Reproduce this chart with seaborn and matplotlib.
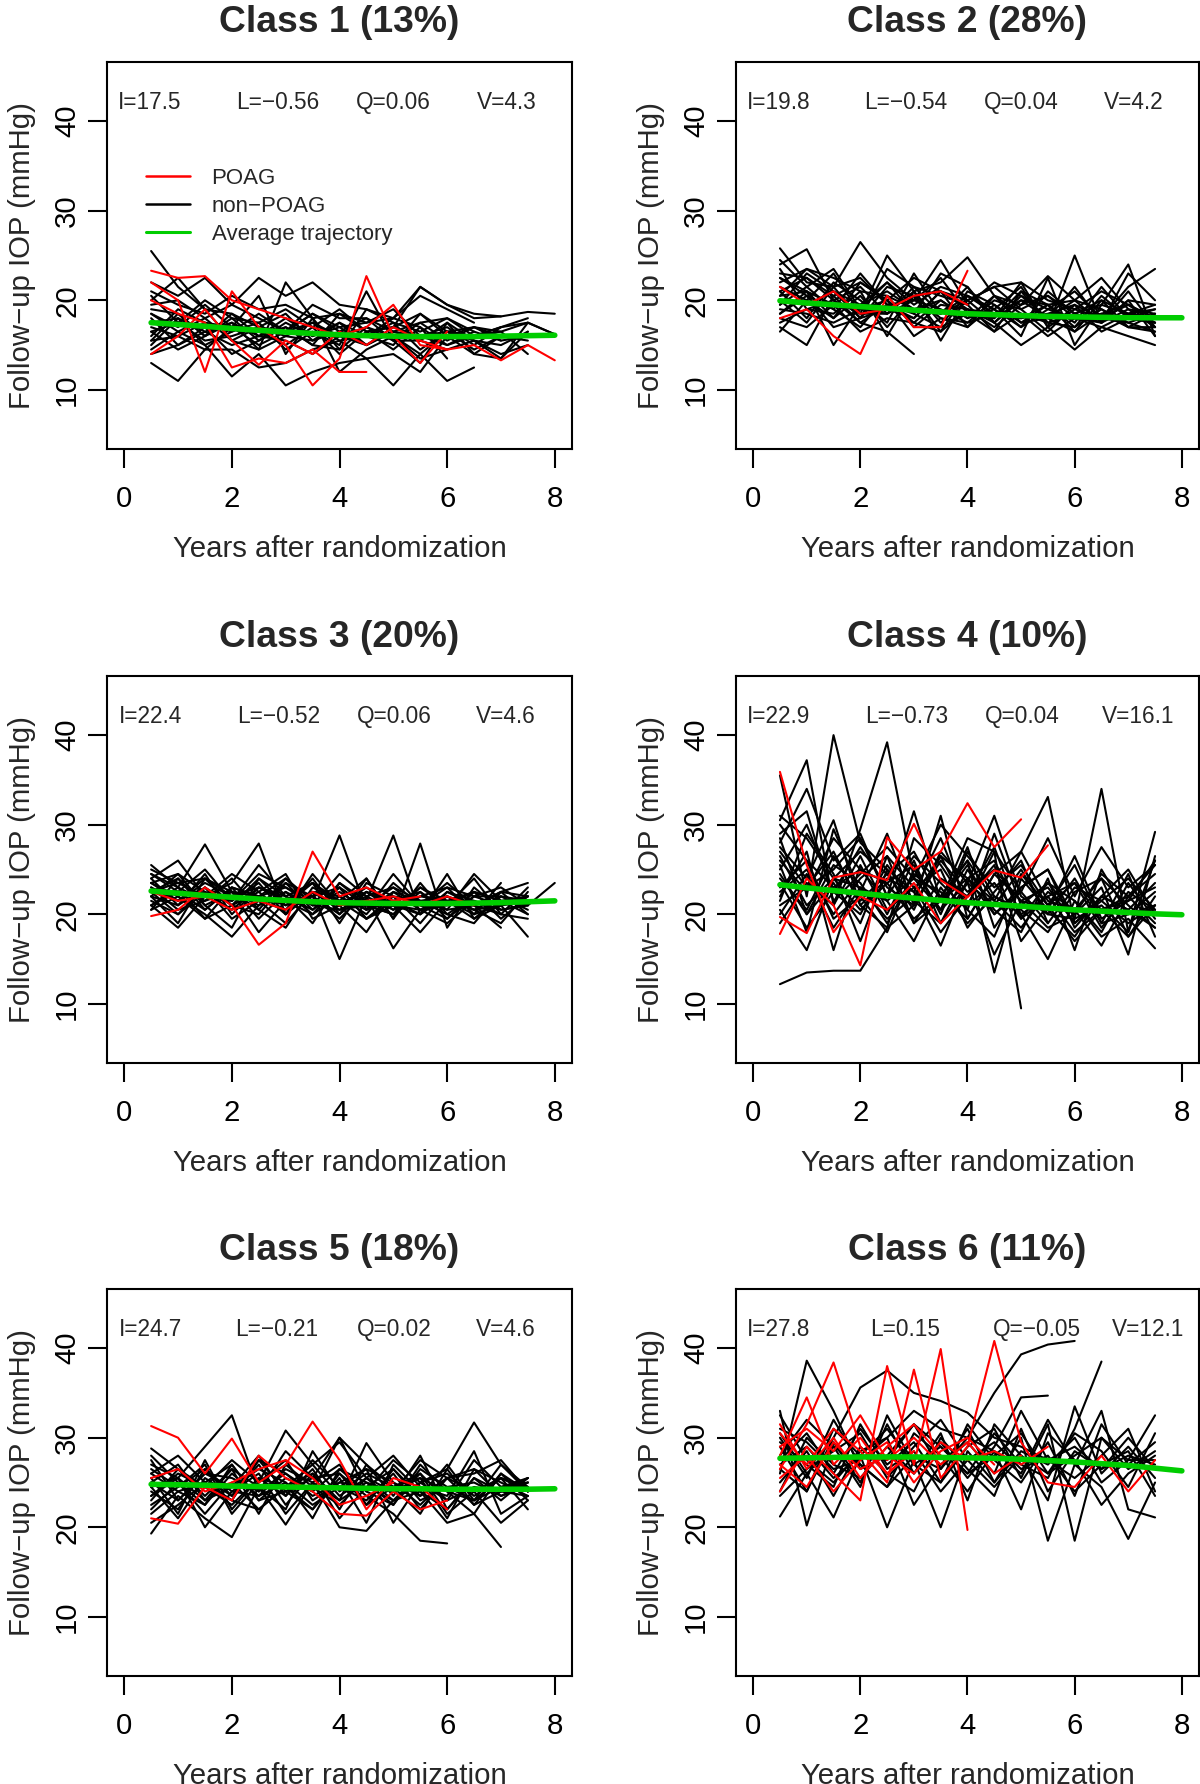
import matplotlib
matplotlib.use("Agg")
import matplotlib.pyplot as plt
from matplotlib.lines import Line2D
import pandas as pd
import seaborn as sns

# ---------------- data ----------------
visit_years = [0.5, 1.0, 1.5, 2.0, 2.5, 3.0, 3.5, 4.0, 4.5, 5.0, 5.5, 6.0, 6.5, 7.0, 7.5, 8.0]

class_titles = ["Class 1 (13%)", "Class 2 (28%)", "Class 3 (20%)",
                "Class 4 (10%)", "Class 5 (18%)", "Class 6 (11%)"]

class_stats = [
    ["I=17.5", "L=\u22120.56", "Q=0.06", "V=4.3"],
    ["I=19.8", "L=\u22120.54", "Q=0.04", "V=4.2"],
    ["I=22.4", "L=\u22120.52", "Q=0.06", "V=4.6"],
    ["I=22.9", "L=\u22120.73", "Q=0.04", "V=16.1"],
    ["I=24.7", "L=\u22120.21", "Q=0.02", "V=4.6"],
    ["I=27.8", "L=0.15", "Q=\u22120.05", "V=12.1"],
]

# average trajectories, at visit_years
c1_avg = [17.5, 17.3, 17.1, 16.85, 16.65, 16.45, 16.3, 16.15, 16.05, 16.0, 15.95, 15.95, 15.95, 16.0, 16.05, 16.1]
c2_avg = [19.95, 19.7, 19.5, 19.3, 19.1, 18.9, 18.7, 18.5, 18.4, 18.3, 18.2, 18.15, 18.1, 18.05, 18.05, 18.05]
c3_avg = [22.6, 22.35, 22.1, 21.9, 21.7, 21.55, 21.4, 21.3, 21.25, 21.2, 21.2, 21.2, 21.25, 21.3, 21.4, 21.5]
c4_avg = [23.3, 22.95, 22.65, 22.35, 22.05, 21.8, 21.55, 21.3, 21.1, 20.9, 20.7, 20.5, 20.35, 20.2, 20.05, 19.95]
c5_avg = [24.8, 24.75, 24.7, 24.6, 24.55, 24.5, 24.45, 24.4, 24.35, 24.3, 24.3, 24.25, 24.25, 24.25, 24.25, 24.3]
c6_avg = [27.7, 27.75, 27.8, 27.85, 27.85, 27.85, 27.8, 27.75, 27.7, 27.6, 27.45, 27.3, 27.1, 26.9, 26.6, 26.3]

# individual follow-up IOP trajectories (values at visit_years, from 0.5 y on)
c1_black = [
    [25.5, 21.5, 19.0, 18.5, 17.0, 16.5, 17.5, 16.0, 15.0, 16.5, 15.5, 14.5, 15.5, 14.0, 15.0],
    [22.0, 20.5, 22.5, 19.5, 22.5, 20.5, 22.0, 19.5, 19.0, 18.0, 21.5, 19.5, 18.5, 18.2, 18.7, 18.5],
    [13.0, 11.0, 14.5, 14.5, 12.5, 13.0, 14.5, 15.5, 13.5, 10.5, 14.0, 11.0, 12.5],
    [15.0, 18.0, 15.0, 11.5, 14.0, 10.5, 12.0, 13.0, 13.5, 14.0, 12.0, 16.0, 17.0, 15.5, 16.0],
    [18.5, 17.0, 19.5, 17.0, 20.5, 14.0, 18.0, 14.5, 19.0, 17.5, 16.5, 18.0, 16.0, 16.5, 14.0],
    [20.0, 22.5, 19.0, 15.5, 14.5, 22.0, 18.0, 12.0, 14.5, 16.0, 13.5, 14.5],
    [16.5, 14.5, 16.0, 18.5, 16.0, 17.0, 15.0, 18.5, 16.5, 17.0, 21.5, 19.5, 18.0, 18.2],
    [17.0, 16.0, 17.5, 16.5, 18.5, 16.5, 18.5, 17.0, 17.5, 19.0, 16.0, 17.0, 15.0, 17.0, 17.5, 16.2],
    [19.0, 18.5, 16.0, 18.0, 15.5, 17.5, 16.0, 17.0, 15.0, 17.0, 18.5, 16.0, 14.0, 16.0],
    [14.5, 16.5, 15.0, 16.5, 17.5, 14.5, 16.5, 15.0, 21.0, 15.5, 13.0, 17.5, 15.5, 13.5, 16.5],
    [21.0, 19.5, 18.5, 20.5, 19.0, 19.5, 18.0, 18.5, 17.5, 18.0, 20.5, 19.0, 17.5],
    [18.0, 15.0, 16.5, 15.0, 16.0, 15.5, 14.0, 16.0, 17.0, 15.5, 15.5, 17.5, 14.0, 13.5, 17.5],
    [16.0, 19.0, 17.5, 17.0, 15.0, 16.5, 18.5, 16.5, 16.0, 18.0, 17.0, 13.5],
    [20.5, 17.5, 20.0, 18.0, 17.5, 19.0, 17.0, 19.0, 16.5, 17.0, 16.0, 16.5, 17.0, 16.5, 17.5, 16.2],
    [15.5, 16.0, 14.5, 17.0, 16.5, 15.0, 17.0, 14.0, 16.5, 14.5, 17.0, 15.0, 16.0, 17.0, 18.0],
    [19.5, 20.0, 18.0, 19.5, 18.0, 16.5, 19.5, 18.0, 18.0, 16.5, 17.5, 18.0, 16.5],
    [17.5, 18.0, 16.5, 17.5, 16.0, 18.0, 16.0, 17.5, 16.0, 15.0, 18.5, 16.5, 15.5, 15.0, 16.5],
    [14.0, 15.0, 17.0, 14.0, 15.5, 17.0, 15.0, 14.5, 17.0, 16.0, 14.0, 16.5, 14.5, 16.0],
    [16.5, 17.5, 15.5, 16.0, 17.0, 16.0, 15.5, 17.5, 15.0, 16.5, 16.0, 15.0, 16.5, 15.5],
    [18.5, 16.5, 18.0, 15.5, 17.0, 18.5, 15.5, 16.5, 18.0, 15.5, 17.5, 15.5, 17.0, 16.0, 15.5],
    [15.5, 18.5, 16.0, 17.5, 14.5, 16.0, 17.5, 15.5, 16.0, 17.5, 14.5, 16.5, 16.0, 17.0],
]
c1_red = [
    [23.3, 22.5, 22.7, 20.0, 19.0, 18.0, 17.0, 16.0, 17.0, 19.5, 15.0, 14.5, 15.0, 13.3, 15.0, 13.3],
    [22.0, 20.0, 12.0, 21.0, 17.0, 15.0, 10.5, 13.5, 22.7, 16.0, 13.0, 16.5],
    [20.0, 18.5, 17.5, 12.5, 13.5, 13.0, 14.5, 12.0, 12.0],
    [14.0, 16.0, 19.0, 15.5, 12.8, 15.5, 14.0, 16.5, 15.0, 17.0, 15.5, 14.5],
]

c2_black = [
    [25.8, 22.0, 21.5, 26.5, 22.5, 20.0, 24.5, 19.5, 22.0, 20.5, 19.0, 21.0, 18.0, 21.5, 23.5],
    [24.0, 25.7, 20.0, 18.5, 25.0, 21.0, 22.0, 24.8, 20.5, 19.5, 22.7, 20.0, 17.5, 20.0, 19.5],
    [17.0, 15.0, 20.5, 17.5, 16.5, 14.0],
    [22.5, 21.0, 15.0, 19.5, 22.0, 18.5, 23.0, 21.5, 18.0, 22.0, 17.0, 25.0, 17.5, 23.0, 20.0],
    [20.5, 23.5, 22.5, 21.0, 16.0, 21.0, 15.5, 20.5, 19.0, 16.0, 22.5, 15.0, 19.5, 24.0, 16.0],
    [19.0, 18.5, 17.5, 19.0, 20.0, 16.0, 18.0, 17.0, 19.5, 17.5, 18.0, 16.5, 18.5, 17.0, 17.0],
    [21.5, 20.0, 23.0, 18.5, 18.5, 21.5, 20.5, 19.5, 16.5, 21.0, 19.5, 17.5, 21.5, 18.0, 19.0],
    [18.0, 17.0, 19.5, 16.5, 18.0, 17.5, 16.5, 19.0, 17.5, 15.0, 17.0, 14.5, 17.0, 16.0, 15.0],
    [23.0, 22.5, 20.5, 22.0, 20.0, 22.5, 21.0, 20.0, 21.5, 22.0, 20.0, 19.0, 18.0, 19.5, 18.0],
    [20.0, 19.5, 21.0, 19.5, 21.0, 19.0, 18.5, 20.5, 18.5, 18.0, 19.5, 20.0, 22.5, 19.0, 18.5],
    [16.5, 20.0, 18.0, 20.5, 17.0, 20.5, 18.0, 17.5, 20.0, 19.0, 16.5, 19.5, 16.5, 18.0, 17.5],
    [22.0, 23.5, 21.5, 22.5, 19.5, 20.0, 22.5, 18.5, 18.0, 21.0, 17.5, 18.5, 20.0, 17.0, 16.5],
    [19.5, 21.5, 19.0, 17.0, 20.5, 19.0, 20.0, 18.0, 19.0, 17.0, 19.0, 18.0, 18.5, 19.5, 18.0],
    [21.0, 18.0, 22.0, 20.0, 17.5, 23.0, 18.5, 21.5, 17.5, 20.0, 18.0, 20.0, 19.0, 17.0, 18.5],
    [18.5, 20.5, 17.0, 18.0, 19.0, 18.0, 21.0, 17.0, 20.5, 18.5, 17.5, 17.0, 20.5, 18.0, 17.5],
    [23.5, 19.0, 18.5, 21.0, 20.5, 17.0, 19.5, 19.0, 17.0, 19.5, 20.5, 18.0, 17.0, 18.5, 19.5],
    [20.5, 21.0, 19.5, 19.0, 18.5, 20.0, 19.0, 17.5, 18.5, 18.0, 18.5, 19.5, 18.0, 17.5, 16.5],
    [17.5, 19.0, 20.0, 17.5, 19.5, 18.5, 17.0, 18.5, 16.5, 18.5, 16.0, 18.0, 17.5, 19.0, 17.0],
    [21.0, 22.5, 20.0, 21.5, 18.5, 21.0, 17.5, 20.0, 21.5, 19.0, 20.5, 18.5, 19.5, 18.5, 18.0],
    [24.5, 21.5, 23.5, 19.0, 22.0, 19.5, 21.5, 20.5, 19.0, 21.5, 17.0, 19.0, 21.0, 19.5, 17.5],
    [18.5, 21.0, 18.0, 22.0, 20.0, 17.5, 20.0, 18.0, 20.5, 17.5, 19.5, 17.0, 19.0, 17.5, 18.5],
    [20.0, 17.5, 21.5, 18.0, 23.5, 21.5, 18.5, 20.0, 17.5, 20.5, 18.0, 21.5, 17.5, 20.0, 16.0],
    [22.5, 20.5, 19.0, 23.0, 19.5, 18.0, 21.0, 19.0, 18.5, 20.0, 19.5, 16.5, 20.0, 18.5, 19.0],
    [19.5, 23.0, 21.0, 18.0, 21.5, 20.5, 16.5, 21.0, 19.5, 17.0, 21.0, 18.5, 17.5, 21.0, 17.0],
]
c2_red = [
    [18.0, 19.0, 16.0, 14.0, 20.5, 17.0, 17.0, 23.3],
    [21.5, 19.5, 21.0, 18.5, 19.0, 20.5, 21.0, 19.5],
]

c3_black = [
    [25.5, 23.0, 27.8, 22.5, 22.0, 24.0, 21.5, 28.8, 20.5, 24.5, 21.0, 23.5, 21.0, 22.5, 23.5],
    [21.0, 18.5, 22.0, 23.5, 27.9, 20.0, 22.5, 15.0, 22.0, 16.2, 20.5, 21.5, 19.5, 21.0, 17.5],
    [23.5, 24.5, 21.0, 18.5, 24.0, 22.0, 19.0, 23.5, 21.5, 28.8, 20.0, 22.0, 20.5, 19.0, 22.5],
    [22.0, 19.0, 24.0, 21.0, 20.0, 23.5, 22.0, 20.0, 24.0, 19.5, 27.9, 18.5, 23.0, 20.5, 21.0],
    [24.0, 26.0, 22.0, 24.5, 22.5, 20.0, 24.5, 21.0, 22.5, 20.5, 23.0, 21.0, 24.0, 20.0, 19.5],
    [20.5, 22.0, 20.0, 17.5, 21.0, 23.5, 20.5, 23.0, 19.5, 21.0, 20.0, 24.5, 19.5, 22.0, 20.5],
    [23.0, 21.5, 23.5, 22.0, 21.5, 19.0, 22.5, 20.5, 21.0, 23.0, 21.5, 20.0, 22.0, 21.0, 22.0],
    [22.5, 24.0, 20.5, 23.0, 19.5, 22.5, 21.0, 24.5, 22.0, 20.5, 22.0, 21.5, 20.0, 23.5],
    [21.5, 20.0, 22.5, 20.5, 23.0, 21.5, 23.5, 19.0, 23.5, 22.0, 19.0, 22.5, 21.0, 20.0, 23.0],
    [24.5, 22.5, 25.0, 21.5, 24.5, 23.0, 21.0, 22.5, 20.5, 22.5, 21.5, 20.5, 24.5, 21.5, 21.0],
    [23.0, 20.5, 21.5, 24.0, 20.5, 18.5, 23.0, 21.5, 24.0, 19.5, 23.5, 20.0, 19.0, 22.5, 20.0],
    [21.0, 23.0, 19.5, 21.0, 22.5, 24.5, 19.5, 21.0, 18.0, 22.5, 20.5, 22.0, 21.0, 18.5],
    [25.0, 23.5, 24.0, 22.0, 23.0, 21.5, 22.0, 23.0, 21.0, 20.0, 22.5, 19.5, 22.5, 21.5, 22.0],
    [22.0, 21.0, 23.0, 19.5, 21.5, 20.5, 24.0, 20.0, 22.5, 21.0, 18.0, 21.5, 20.5, 22.0, 21.5],
    [20.5, 24.0, 21.0, 22.5, 18.0, 21.5, 20.0, 22.0, 20.0, 23.5, 21.0, 23.0, 22.0, 23.0, 21.0, 23.5],
    [23.5, 22.0, 19.5, 23.0, 22.0, 23.0, 21.5, 21.0, 23.0, 21.0, 20.5, 19.0, 21.5, 20.0],
    [22.5, 23.5, 22.0, 21.5, 25.5, 22.0, 20.5, 23.0, 19.5, 22.0, 21.5, 22.0, 20.5, 21.0, 21.5],
    [24.0, 21.0, 24.5, 20.0, 23.0, 22.0, 23.5, 21.0, 21.5, 20.0, 23.0, 21.5, 22.5, 19.5, 22.0],
    [22.0, 24.5, 22.5, 21.5, 23.5, 20.0, 22.5, 22.0, 20.5, 21.5, 20.0, 22.5, 21.5, 20.5, 21.0],
    [23.5, 21.5, 24.0, 22.5, 20.5, 24.0, 21.0, 20.5, 22.0, 23.0, 20.5, 21.0, 22.5, 21.5, 20.0],
    [21.0, 22.5, 20.5, 23.0, 22.0, 21.0, 23.5, 21.5, 19.5, 21.5, 22.5, 20.5, 21.0, 22.5, 22.0],
    [24.5, 23.0, 21.5, 22.5, 21.0, 22.5, 20.0, 23.5, 21.0, 20.0, 22.0, 23.0, 20.0, 21.0, 21.5],
    [22.5, 20.0, 23.0, 21.0, 24.0, 21.0, 22.0, 19.5, 22.5, 21.5, 21.0, 19.5, 22.0, 22.0],
]
c3_red = [
    [19.8, 20.5, 23.0, 21.0, 16.6, 19.0, 27.0, 22.0, 23.0, 21.5, 22.0],
    [22.5, 21.5, 22.0, 20.5, 21.5, 20.5, 22.5, 21.0, 21.5, 22.0, 21.0, 22.0, 21.0],
]

c4_black = [
    [35.5, 22.0, 40.0, 28.0, 25.0, 19.0, 21.5, 24.0, 26.0, 20.0, 22.0, 18.0, 20.5, 17.5, 21.0],
    [30.5, 37.2, 21.0, 29.5, 39.2, 24.0, 20.5, 27.5, 18.5, 23.0, 25.0, 19.5, 21.0, 18.0, 26.0],
    [12.2, 13.5, 13.7, 13.7, 18.5, 21.0, 26.5, 24.0, 20.0, 22.5, 19.0],
    [28.0, 34.0, 26.0, 29.0, 22.0, 31.5, 21.5, 28.5, 27.0, 9.5],
    [25.5, 18.0, 29.5, 22.5, 29.0, 21.0, 31.0, 19.5, 24.5, 27.0, 33.1, 19.0, 21.5, 24.0, 20.5],
    [22.0, 27.0, 16.0, 25.5, 20.0, 26.0, 19.0, 25.0, 20.5, 18.0, 24.0, 16.0, 25.0, 20.0, 22.5],
    [31.0, 28.5, 24.0, 27.0, 24.5, 20.5, 27.0, 23.5, 31.0, 22.0, 20.0, 19.5, 34.0, 18.0, 29.2],
    [24.5, 20.0, 23.5, 19.0, 26.5, 23.0, 18.0, 22.0, 25.5, 17.0, 21.0, 25.5, 19.0, 24.5, 17.5],
    [27.5, 24.0, 30.5, 21.0, 18.5, 28.5, 25.5, 21.0, 27.0, 22.5, 28.5, 22.0, 27.5, 23.0, 25.5],
    [20.5, 16.0, 24.0, 23.0, 21.5, 17.0, 23.0, 19.0, 22.0, 20.0, 15.0, 21.5, 17.5, 19.5, 16.2],
    [29.0, 31.5, 21.5, 24.5, 27.5, 24.0, 30.0, 26.5, 23.0, 25.5, 21.0, 23.5, 20.5, 22.0, 19.0],
    [23.0, 26.0, 19.5, 22.0, 18.0, 25.0, 20.5, 23.5, 15.5, 21.5, 18.5, 20.0, 23.0, 15.5, 26.5],
    [26.0, 22.5, 28.5, 25.0, 23.5, 19.5, 22.0, 26.0, 13.5, 24.0, 20.5, 17.5, 22.0, 20.5, 18.5],
    [21.5, 29.0, 24.5, 17.0, 25.0, 22.5, 16.5, 24.0, 21.5, 18.5, 22.5, 20.5, 16.5, 22.0, 24.5],
    [19.0, 23.5, 21.0, 26.5, 20.5, 23.0, 25.0, 18.5, 22.5, 26.0, 19.0, 23.0, 21.5, 19.0, 21.0],
    [24.0, 20.5, 26.5, 21.5, 24.5, 27.0, 21.5, 25.5, 20.0, 23.0, 25.0, 18.5, 22.0, 25.0, 20.0],
    [30.0, 26.0, 23.0, 25.0, 21.5, 24.0, 22.5, 19.5, 24.5, 21.5, 20.5, 26.5, 19.5, 21.5, 23.0],
    [22.5, 25.0, 20.0, 24.0, 26.5, 19.0, 24.0, 22.0, 27.5, 19.5, 23.5, 21.5, 18.0, 23.5, 19.5],
    [26.5, 21.0, 24.0, 20.5, 23.5, 25.5, 20.0, 27.0, 22.0, 20.5, 18.0, 22.5, 24.0, 17.5, 22.0],
    [20.0, 24.5, 18.5, 23.0, 19.5, 22.0, 26.5, 20.5, 17.5, 24.5, 21.0, 17.0, 20.5, 21.5, 26.0],
    [27.0, 23.0, 25.0, 28.5, 22.0, 26.5, 23.5, 20.5, 29.0, 21.0, 23.5, 20.0, 24.5, 22.0, 25.5],
    [23.5, 18.5, 22.5, 20.0, 25.5, 21.5, 19.0, 23.5, 21.0, 25.0, 20.0, 24.0, 19.0, 20.0, 21.0],
    [25.0, 30.0, 22.5, 27.5, 23.0, 21.0, 26.0, 22.5, 25.0, 21.5, 23.0, 19.0, 22.0, 20.5, 23.5],
    [21.0, 23.0, 27.0, 21.0, 24.0, 22.5, 28.5, 21.0, 23.5, 19.5, 22.0, 23.5, 18.5, 22.5, 20.5],
    [28.5, 20.0, 25.5, 23.5, 19.0, 24.5, 22.0, 26.0, 21.5, 27.0, 21.5, 20.5, 24.0, 21.0, 18.5],
]
c4_red = [
    [19.7, 17.9, 24.1, 24.7, 23.8, 30.1, 23.8, 21.9, 24.9, 24.1, 27.7],
    [17.8, 24.0, 21.0, 14.3, 28.6, 25.0, 27.0, 32.4, 27.5, 30.6],
    [35.9, 25.5, 18.0, 22.0, 20.5, 23.5, 19.0, 22.0],
]

c5_black = [
    [27.0, 25.5, 29.0, 32.5, 24.0, 28.5, 25.5, 30.0, 24.0, 27.5, 25.0, 26.5, 31.7, 27.0, 24.0],
    [19.3, 23.5, 21.0, 18.9, 24.5, 20.3, 25.0, 20.0, 19.6, 23.0, 24.0, 20.5, 21.5, 17.8],
    [28.8, 26.5, 24.5, 27.5, 25.0, 30.8, 27.0, 29.5, 25.5, 24.0, 27.5, 25.5, 26.0, 27.5, 24.0],
    [24.0, 22.0, 26.5, 23.5, 27.0, 22.5, 26.0, 23.0, 29.4, 25.0, 23.5, 27.0, 23.0, 25.5, 24.5],
    [22.0, 25.0, 21.5, 25.0, 22.0, 24.5, 22.0, 26.0, 23.5, 21.5, 18.5, 18.2],
    [26.0, 28.0, 25.0, 23.0, 27.5, 26.0, 24.0, 30.0, 27.0, 23.5, 28.0, 22.0, 25.5, 23.0, 25.5],
    [23.0, 26.5, 23.5, 26.5, 21.5, 27.0, 24.5, 22.5, 25.5, 28.0, 24.5, 23.5, 28.5, 21.5, 23.5],
    [25.5, 21.5, 27.5, 22.0, 25.5, 23.5, 27.5, 24.5, 23.0, 26.0, 22.0, 25.5, 22.5, 24.0, 25.0],
    [21.5, 24.0, 22.5, 26.0, 23.5, 25.0, 21.0, 26.5, 24.0, 22.5, 27.0, 24.0, 21.5, 26.0, 23.0],
    [27.5, 23.0, 26.0, 24.5, 28.0, 23.5, 26.5, 22.0, 27.0, 24.5, 25.5, 21.0, 26.5, 23.5, 24.5],
    [23.5, 25.5, 20.0, 24.0, 26.0, 21.5, 25.0, 27.0, 22.5, 26.5, 23.5, 25.5, 24.0, 20.5, 23.0],
    [26.5, 24.5, 27.0, 21.5, 25.0, 27.5, 23.0, 25.0, 26.5, 20.5, 25.0, 23.0, 27.5, 24.5, 25.5],
    [20.5, 22.5, 25.0, 23.0, 22.0, 24.5, 26.0, 21.0, 24.5, 23.0, 26.0, 21.5, 24.0, 25.5, 22.0],
    [25.0, 27.0, 23.0, 26.5, 24.5, 22.0, 28.5, 24.0, 26.0, 24.5, 21.5, 26.5, 22.5, 26.0, 24.0],
    [24.5, 21.0, 25.5, 23.5, 27.5, 24.0, 22.0, 25.5, 20.5, 27.0, 24.0, 22.0, 25.5, 24.0, 23.5],
    [28.0, 25.0, 22.5, 27.0, 23.0, 25.5, 24.0, 26.5, 25.0, 22.5, 26.5, 24.5, 23.0, 27.0, 24.5],
    [25.0, 23.0, 26.0, 25.5, 24.0, 26.0, 23.5, 25.0, 24.5, 26.5, 23.0, 24.5, 25.0, 23.5, 25.0],
    [23.5, 26.0, 24.5, 22.5, 25.5, 24.5, 27.0, 23.5, 25.5, 23.0, 25.0, 26.0, 23.5, 25.5, 24.0],
    [26.0, 24.0, 25.0, 27.0, 23.0, 24.0, 25.5, 26.0, 22.5, 24.5, 26.0, 23.0, 24.5, 24.0, 25.5],
    [24.5, 25.5, 23.0, 24.5, 26.5, 25.0, 22.5, 24.5, 26.5, 25.0, 22.5, 25.5, 26.5, 25.0, 23.5],
    [22.5, 24.5, 26.5, 24.0, 23.5, 26.5, 25.0, 23.0, 25.0, 24.0, 25.5, 24.0, 23.0, 24.5, 25.0],
]
c5_red = [
    [31.3, 30.0, 26.0, 29.9, 25.0, 27.0, 31.8, 27.5, 22.0, 25.5, 24.5, 22.0],
    [21.0, 20.4, 24.5, 23.0, 28.0, 25.5, 24.0, 21.5, 21.3, 24.0, 22.0, 23.0],
    [25.5, 26.5, 24.0, 25.0, 26.5, 27.5, 25.5, 22.5, 23.5, 25.0],
]

c6_black = [
    [32.5, 27.5, 25.0, 28.5, 30.0, 33.0, 31.0, 30.0, 35.0, 39.3, 40.4, 40.8],
    [26.0, 38.6, 33.0, 26.5, 28.0, 31.5, 29.0, 26.0, 30.5, 27.0, 25.5, 31.0, 38.5],
    [29.0, 24.0, 30.0, 35.6, 37.5, 35.0, 34.1, 32.8, 30.0, 29.0, 27.5, 29.0, 26.5, 28.0, 27.0],
    [21.2, 26.0, 21.1, 28.0, 20.0, 27.5, 20.0, 28.5, 25.0, 30.0, 18.5, 27.0, 24.5, 18.7, 25.0],
    [33.0, 20.2, 29.5, 25.0, 31.5, 26.0, 29.5, 25.5, 29.0, 34.5, 34.7],
    [27.5, 30.5, 26.0, 31.0, 27.0, 29.5, 25.0, 29.0, 31.0, 25.5, 31.5, 18.5, 30.0, 27.5, 32.5],
    [30.0, 25.5, 32.0, 27.0, 24.5, 30.5, 28.0, 24.0, 28.5, 26.0, 32.0, 27.0, 33.0, 22.0, 21.1],
    [25.0, 28.5, 23.5, 29.0, 26.0, 24.0, 30.0, 26.5, 23.5, 31.0, 24.0, 28.5, 26.5, 30.0, 26.5],
    [28.0, 32.0, 29.0, 24.5, 32.5, 27.0, 25.0, 31.5, 27.5, 25.0, 29.5, 23.5, 31.5, 27.0, 29.5],
    [23.5, 26.5, 28.5, 30.5, 25.5, 29.0, 32.0, 27.5, 24.5, 28.0, 23.0, 33.5, 26.0, 29.0, 25.5],
    [31.0, 29.5, 26.5, 27.5, 30.0, 22.5, 27.0, 29.5, 26.0, 33.0, 27.5, 25.5, 28.0, 31.0, 24.0],
    [26.5, 24.0, 31.0, 28.0, 27.5, 31.5, 26.5, 30.0, 28.5, 22.0, 30.5, 27.5, 22.5, 26.0, 28.0],
    [24.0, 30.0, 27.0, 25.5, 29.0, 26.0, 30.5, 23.0, 31.5, 28.0, 26.0, 30.5, 28.5, 24.5, 30.5],
    [29.5, 27.0, 24.5, 31.5, 26.5, 28.5, 24.0, 27.5, 29.5, 26.5, 28.0, 24.0, 27.0, 28.5, 23.5],
    [27.0, 29.0, 25.5, 28.0, 31.0, 27.0, 29.0, 26.0, 28.0, 30.5, 26.0, 28.0, 30.0, 26.5, 28.5],
    [30.5, 26.0, 29.0, 27.0, 24.5, 28.0, 26.5, 31.0, 25.0, 28.5, 27.0, 30.0, 25.0, 27.5, 27.5],
]
c6_red = [
    [28.0, 34.5, 27.0, 30.0, 26.0, 28.5],
    [26.5, 31.5, 38.4, 29.0, 26.0, 28.5],
    [24.0, 29.0, 26.0, 23.0, 38.0, 27.0, 39.9, 19.7],
    [30.5, 27.0, 31.0, 28.5, 25.0, 37.6, 25.5, 29.0, 40.8, 29.5, 25.0, 24.5, 28.0, 24.0, 27.5],
    [27.0, 24.5, 29.5, 26.5, 28.0, 26.0, 29.5, 27.5, 28.5, 27.0, 29.0],
    [29.0, 31.0, 28.5, 32.5, 27.5, 30.0, 27.0, 29.5, 26.0, 28.0],
    [25.5, 28.0, 24.0, 27.5, 29.5, 25.0, 28.5, 30.0, 27.0],
    [31.5, 26.5, 30.0, 25.5, 29.0, 31.5, 28.0],
]

group_labels = ["POAG", "non\u2212POAG", "Average trajectory"]

# ---------------- layout / style (not data) ----------------
FIG_W, FIG_H = 1200, 1784
col_x = [107, 736]
col_w = [465, 463]
row_y = [62, 676, 1289]
ax_h = 387
stat_x = [
    [0.47, 2.86, 5.0, 7.1],
    [0.47, 2.85, 5.0, 7.1],
    [0.48, 2.87, 5.02, 7.09],
    [0.47, 2.87, 5.02, 7.18],
    [0.48, 2.84, 5.02, 7.09],
    [0.47, 2.84, 5.3, 7.37],
]
RED = "#FF0000"
GREEN = "#00CD00"
BASE_FS = 21.2

sns.set_style("ticks")
plt.rcParams["font.family"] = ["Liberation Sans", "DejaVu Sans"]
plt.rcParams["axes.unicode_minus"] = True

# long-format table
rows = []
panel_data = [(c1_black, c1_red), (c2_black, c2_red), (c3_black, c3_red),
              (c4_black, c4_red), (c5_black, c5_red), (c6_black, c6_red)]
for k, (blk, red) in enumerate(panel_data):
    for grp, trajs in (("non-POAG", blk), ("POAG", red)):
        for j, tr in enumerate(trajs):
            for i, v in enumerate(tr):
                rows.append({"panel": k, "pid": f"{grp}-{j}", "group": grp,
                             "year": visit_years[i], "iop": v})
df = pd.DataFrame(rows)
avgs = [c1_avg, c2_avg, c3_avg, c4_avg, c5_avg, c6_avg]

fig = plt.figure(figsize=(FIG_W / 100, FIG_H / 100), dpi=100)

for k in range(6):
    r, c = divmod(k, 2)
    x0, w, y0 = col_x[c], col_w[c], row_y[r]
    ax = fig.add_axes([x0 / FIG_W, 1 - (y0 + ax_h) / FIG_H, w / FIG_W, ax_h / FIG_H])
    sub = df[df["panel"] == k]
    sns.lineplot(data=sub, x="year", y="iop", hue="group", units="pid",
                 estimator=None, hue_order=["non-POAG", "POAG"],
                 palette={"non-POAG": "black", "POAG": RED},
                 linewidth=1.5, legend=False, ax=ax, sort=True)
    avg_df = pd.DataFrame({"year": visit_years, "iop": avgs[k]})
    sns.lineplot(data=avg_df, x="year", y="iop", color=GREEN, linewidth=4.0, ax=ax)

    ax.set_xlim(-0.32, 8.32)
    ax.set_ylim(3.4, 46.6)
    ax.set_xticks([0, 2, 4, 6, 8])
    ax.set_yticks([10, 20, 30, 40])
    for sp in ax.spines.values():
        sp.set_visible(True)
        sp.set_linewidth(1.5)
        sp.set_color("black")
    ax.tick_params(axis="both", direction="out", length=13.7, width=1.5,
                   color="black", labelsize=BASE_FS, labelcolor="black")
    ax.tick_params(axis="x", pad=12.0)
    ax.tick_params(axis="y", pad=5)
    for lab in ax.get_yticklabels():
        lab.set_rotation(90)
        lab.set_verticalalignment("center")

    ax.set_xlabel("Years after randomization", fontsize=BASE_FS)
    ax.xaxis.set_label_coords(0.5, -107.7 / ax_h)
    ax.xaxis.label.set_verticalalignment("baseline")
    ax.set_ylabel("Follow\u2212up IOP (mmHg)", fontsize=BASE_FS)
    ax.yaxis.set_label_coords(-85 / w, 0.5)
    ax.yaxis.label.set_verticalalignment("center")

    ax.text(0.5, 1 + 29.5 / ax_h, class_titles[k], transform=ax.transAxes,
            ha="center", va="baseline", fontsize=26.8, fontweight="bold")
    for s, sx in zip(class_stats[k], stat_x[k]):
        ax.text(sx, 41.4, s, ha="center", va="baseline", fontsize=16.3)

    if k == 0:
        handles = [Line2D([], [], color=RED, lw=1.8),
                   Line2D([], [], color="black", lw=1.8),
                   Line2D([], [], color=GREEN, lw=2.2)]
        ax.legend(handles, group_labels, loc="upper left",
                  bbox_to_anchor=((146 - x0) / w, 1 - (168 - y0) / ax_h),
                  frameon=False, fontsize=16, handlelength=2.0,
                  handletextpad=0.95, labelspacing=0.31, borderpad=0,
                  borderaxespad=0)

fig.savefig("out.png", dpi=100)
